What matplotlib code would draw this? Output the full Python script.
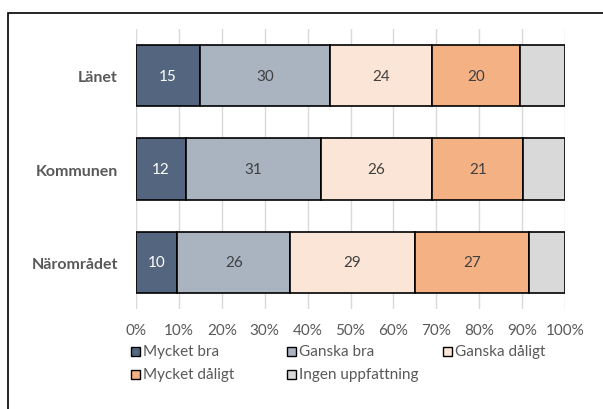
import numpy as np
import matplotlib
matplotlib.use("Agg")
import matplotlib.pyplot as plt
from matplotlib.patches import Rectangle

plt.rcParams['font.family'] = ['Lato', 'DejaVu Sans']

### Data (percent) ###
categories = ["Länet", "Kommunen", "Närområdet"]
series = ["Mycket bra", "Ganska bra", "Ganska dåligt", "Mycket dåligt", "Ingen uppfattning"]
mycket_bra = [14.9, 11.7, 9.6]
ganska_bra = [30.4, 31.4, 26.4]
ganska_daligt = [23.8, 25.9, 29.0]
mycket_daligt = [20.3, 21.3, 26.6]
ingen = [10.6, 9.7, 8.4]
values = [mycket_bra, ganska_bra, ganska_daligt, mycket_daligt, ingen]

colors = ["#53657f", "#aab3c0", "#fbe5d6", "#f4b183", "#d9d9d9"]
label_colors = ["white", "#404040", "#404040", "#404040", None]
grey = "#595959"

fig = plt.figure(figsize=(6.03, 4.10), dpi=100)
ax = fig.add_axes([136/603, 1 - 310/410, 429/603, 280/410])

y = np.arange(len(categories))
left = np.zeros(len(categories))
for vals, col, lc in zip(values, colors, label_colors):
    vals = np.array(vals)
    bars = ax.barh(y, vals, left=left, height=0.66, color=col,
                   edgecolor="black", linewidth=1.2, zorder=3)
    if lc is not None:
        for b, v in zip(bars, vals):
            ax.text(b.get_x() + b.get_width() / 2, b.get_y() + b.get_height() / 2,
                    f"{int(round(v))}", ha="center", va="center",
                    color=lc, fontsize=11, zorder=4)
    left += vals

ax.set_xlim(0, 100)
ax.set_ylim(2.5, -0.5)
ax.set_xticks(np.arange(0, 101, 10))
ax.set_xticklabels([f"{t}%" for t in range(0, 101, 10)], color=grey, fontsize=11)
ax.set_yticks(y)
ax.set_yticklabels(categories, color=grey, fontsize=11.5, fontweight="bold")
ax.tick_params(axis="both", length=0)
ax.tick_params(axis="x", pad=10)
ax.tick_params(axis="y", pad=13)
ax.grid(axis="x", color="#d9d9d9", linewidth=1, zorder=0)
for s in ax.spines.values():
    s.set_visible(False)

### Legend, laid out by hand in figure pixels ###
for i, (name, col) in enumerate(zip(series, colors)):
    r, c = divmod(i, 3)
    x0 = 131 + c * 156
    yc = 352 + r * 23
    fig.patches.append(Rectangle((x0 / 603, 1 - (yc + 4.5) / 410), 9 / 603, 9 / 410,
                                 transform=fig.transFigure, facecolor=col,
                                 edgecolor="black", linewidth=1))
    fig.text((x0 + 12) / 603, 1 - yc / 410, name, color=grey, fontsize=11,
             ha="left", va="center")

### Outer frame ###
fig.patches.append(Rectangle((8 / 603, -0.1), 1.2, 1 - 14 / 410 + 0.1,
                             transform=fig.transFigure, fill=False,
                             edgecolor="black", linewidth=1.2))

fig.savefig("out.png", dpi=100)
